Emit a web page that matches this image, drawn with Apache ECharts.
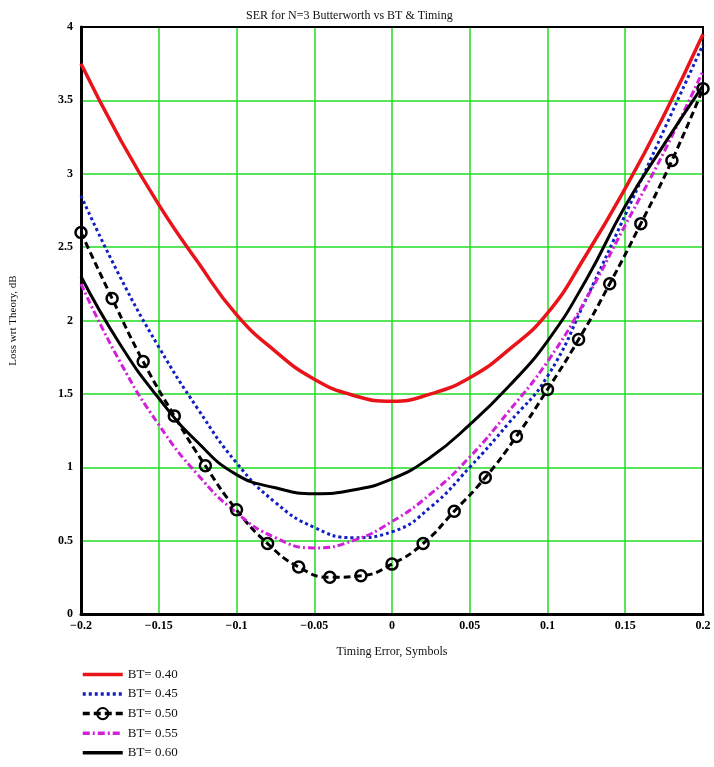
<!DOCTYPE html>
<html><head><meta charset="utf-8">
<script src="https://cdn.jsdelivr.net/npm/echarts@6/dist/echarts.min.js"></script>
<style>html,body{margin:0;padding:0;background:#fff}#c{width:714px;height:767px}</style>
</head><body><div id="c"></div>
<script>
const xCurve = [-0.2,-0.175,-0.15,-0.125,-0.1,-0.075,-0.05,-0.025,0,0.025,0.05,0.075,0.1,0.125,0.15,0.175,0.2];
const bt40 = [3.75,3.24,2.79,2.40,2.04,1.79,1.60,1.49,1.45,1.50,1.61,1.80,2.05,2.45,2.90,3.40,3.95];
const bt45 = [2.85,2.30,1.82,1.40,1.03,0.76,0.59,0.52,0.56,0.73,1.00,1.30,1.62,2.15,2.72,3.30,3.88];
const bt55 = [2.25,1.72,1.29,0.95,0.69,0.52,0.45,0.50,0.63,0.82,1.07,1.38,1.72,2.15,2.65,3.15,3.70];
const bt60 = [2.30,1.84,1.47,1.17,0.95,0.86,0.82,0.845,0.92,1.07,1.29,1.55,1.86,2.28,2.78,3.20,3.60];
const xMarked = [-0.2,-0.18,-0.16,-0.14,-0.12,-0.1,-0.08,-0.06,-0.04,-0.02,0,0.02,0.04,0.06,0.08,0.1,0.12,0.14,0.16,0.18,0.2];
const bt50 = [2.60,2.15,1.72,1.35,1.01,0.71,0.48,0.32,0.25,0.26,0.34,0.48,0.70,0.93,1.21,1.53,1.87,2.25,2.66,3.09,3.58];
const seriesNames = ['BT= 0.40','BT= 0.45','BT= 0.50','BT= 0.55','BT= 0.60'];

const pair = (xs, ys) => xs.map((x, i) => [x, ys[i]]);
const serif = '"Liberation Serif","DejaVu Serif",serif';
const fmt = v => String(Math.round(v * 100) / 100).replace('-', '\u2212');
const hiddenIcon = {opacity: 0};

const chart = echarts.init(document.getElementById('c'));
chart.setOption({
  animation: false,
  backgroundColor: '#fff',
  title: {
    text: 'SER for N=3 Butterworth vs BT & Timing',
    left: 241, top: 5,
    textStyle: {fontFamily: serif, fontSize: 12, fontWeight: 'normal', color: '#111'}
  },
  grid: {left: 79, right: 11, top: 27, bottom: 153, show: true, borderColor: '#000', borderWidth: 2, z: 3},
  legend: {
    data: seriesNames.map((n, i) => i === 2 ? {name: n} : {name: n, itemStyle: hiddenIcon}),
    orient: 'vertical', left: 76, top: 663, itemGap: 6.5, itemWidth: 40, itemHeight: 14,
    lineStyle: {width: 3.5},
    textStyle: {fontFamily: serif, fontSize: 13, color: '#111'}
  },
  xAxis: {
    type: 'value', min: -0.2, max: 0.2, interval: 0.05,
    name: 'Timing Error, Symbols', nameLocation: 'middle', nameGap: 32,
    nameTextStyle: {fontFamily: serif, fontSize: 12, color: '#111'},
    axisLine: {show: true, onZero: false, lineStyle: {color: '#000', width: 3}},
    axisTick: {show: false},
    axisLabel: {formatter: fmt, fontFamily: serif, fontWeight: 'bold', fontSize: 12, color: '#000', margin: 6},
    splitLine: {show: true, showMinLine: false, showMaxLine: false, lineStyle: {color: '#22dd22', width: 1.5}}
  },
  yAxis: {
    type: 'value', min: 0, max: 4, interval: 0.5,
    name: 'Loss wrt Theory, dB', nameLocation: 'middle', nameGap: 62, nameRotate: 90,
    nameTextStyle: {fontFamily: serif, fontSize: 11, color: '#111'},
    axisLine: {show: true, onZero: false, lineStyle: {color: '#000', width: 3}},
    axisTick: {show: false},
    axisLabel: {formatter: fmt, fontFamily: serif, fontWeight: 'bold', fontSize: 12, color: '#000', margin: 8},
    splitLine: {show: true, showMinLine: false, showMaxLine: false, lineStyle: {color: '#22dd22', width: 1.5}}
  },
  series: [
    {name: seriesNames[0], type: 'line', data: pair(xCurve, bt40), smooth: true, showSymbol: false, symbol: 'none',
     lineStyle: {color: '#e8141a', width: 3.5}, itemStyle: {color: '#e8141a'}},
    {name: seriesNames[1], type: 'line', data: pair(xCurve, bt45), smooth: true, showSymbol: false, symbol: 'none',
     lineStyle: {color: '#1020c0', width: 3, type: [3, 3]}, itemStyle: {color: '#1020c0'}},
    {name: seriesNames[2], type: 'line', data: pair(xMarked, bt50), smooth: true, symbol: 'circle', symbolSize: 11,
     lineStyle: {color: '#000', width: 3, type: [7, 4]},
     itemStyle: {color: 'rgba(255,255,255,0)', borderColor: '#000', borderWidth: 2.5}},
    {name: seriesNames[3], type: 'line', data: pair(xCurve, bt55), smooth: true, showSymbol: false, symbol: 'none',
     lineStyle: {color: '#d020d8', width: 3, type: [7, 3, 2, 3]}, itemStyle: {color: '#d020d8'}},
    {name: seriesNames[4], type: 'line', data: pair(xCurve, bt60), smooth: true, showSymbol: false, symbol: 'none',
     lineStyle: {color: '#000', width: 3}, itemStyle: {color: '#000'}}
  ]
});
</script></body></html>
